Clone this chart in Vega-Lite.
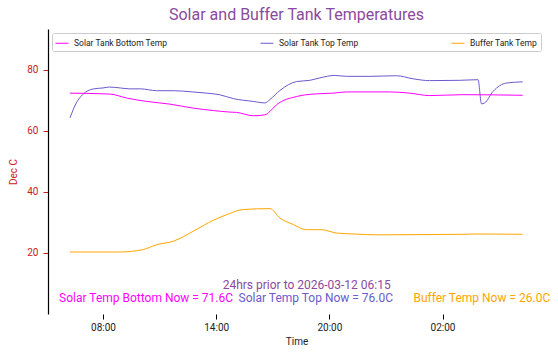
{
  "$schema": "https://vega.github.io/schema/vega-lite/v6.json",
  "width": 497,
  "height": 285,
  "autosize": {"type": "none"},
  "padding": {"left": 48, "top": 29, "right": 13, "bottom": 44},
  "config": {
    "font": "Roboto",
    "view": {"stroke": null},
    "axis": {"grid": false}
  },
  "title": {
    "text": "Solar and Buffer Tank Temperatures",
    "color": "#8a4a9e",
    "fontSize": 16,
    "fontWeight": "normal",
    "anchor": "middle",
    "offset": 6
  },
  "datasets": {
    "temps": [
      {"time": "2026-03-11 06:15", "series": "Solar Tank Top Temp", "temp": 64.2},
      {"time": "2026-03-11 06:35", "series": "Solar Tank Top Temp", "temp": 69.1},
      {"time": "2026-03-11 06:55", "series": "Solar Tank Top Temp", "temp": 71.8},
      {"time": "2026-03-11 07:30", "series": "Solar Tank Top Temp", "temp": 73.7},
      {"time": "2026-03-11 08:00", "series": "Solar Tank Top Temp", "temp": 74.0},
      {"time": "2026-03-11 08:20", "series": "Solar Tank Top Temp", "temp": 74.3},
      {"time": "2026-03-11 08:55", "series": "Solar Tank Top Temp", "temp": 74.0},
      {"time": "2026-03-11 09:25", "series": "Solar Tank Top Temp", "temp": 73.7},
      {"time": "2026-03-11 10:00", "series": "Solar Tank Top Temp", "temp": 73.7},
      {"time": "2026-03-11 10:50", "series": "Solar Tank Top Temp", "temp": 73.1},
      {"time": "2026-03-11 11:45", "series": "Solar Tank Top Temp", "temp": 73.1},
      {"time": "2026-03-11 12:45", "series": "Solar Tank Top Temp", "temp": 72.7},
      {"time": "2026-03-11 13:30", "series": "Solar Tank Top Temp", "temp": 72.3},
      {"time": "2026-03-11 14:10", "series": "Solar Tank Top Temp", "temp": 71.8},
      {"time": "2026-03-11 14:55", "series": "Solar Tank Top Temp", "temp": 70.5},
      {"time": "2026-03-11 15:58", "series": "Solar Tank Top Temp", "temp": 69.6},
      {"time": "2026-03-11 16:35", "series": "Solar Tank Top Temp", "temp": 69.1},
      {"time": "2026-03-11 16:51", "series": "Solar Tank Top Temp", "temp": 70.2},
      {"time": "2026-03-11 17:23", "series": "Solar Tank Top Temp", "temp": 73.2},
      {"time": "2026-03-11 18:16", "series": "Solar Tank Top Temp", "temp": 76.1},
      {"time": "2026-03-11 18:58", "series": "Solar Tank Top Temp", "temp": 76.5},
      {"time": "2026-03-11 19:30", "series": "Solar Tank Top Temp", "temp": 77.3},
      {"time": "2026-03-11 20:17", "series": "Solar Tank Top Temp", "temp": 78.1},
      {"time": "2026-03-11 20:55", "series": "Solar Tank Top Temp", "temp": 77.8},
      {"time": "2026-03-11 22:09", "series": "Solar Tank Top Temp", "temp": 77.8},
      {"time": "2026-03-11 23:34", "series": "Solar Tank Top Temp", "temp": 78.0},
      {"time": "2026-03-12 00:26", "series": "Solar Tank Top Temp", "temp": 77.0},
      {"time": "2026-03-12 01:19", "series": "Solar Tank Top Temp", "temp": 76.4},
      {"time": "2026-03-12 02:55", "series": "Solar Tank Top Temp", "temp": 76.5},
      {"time": "2026-03-12 03:53", "series": "Solar Tank Top Temp", "temp": 76.7},
      {"time": "2026-03-12 04:04", "series": "Solar Tank Top Temp", "temp": 68.8},
      {"time": "2026-03-12 04:14", "series": "Solar Tank Top Temp", "temp": 69.1},
      {"time": "2026-03-12 04:41", "series": "Solar Tank Top Temp", "temp": 72.9},
      {"time": "2026-03-12 05:23", "series": "Solar Tank Top Temp", "temp": 75.6},
      {"time": "2026-03-12 06:15", "series": "Solar Tank Top Temp", "temp": 76.0},

      {"time": "2026-03-11 06:15", "series": "Solar Tank Bottom Temp", "temp": 72.3},
      {"time": "2026-03-11 08:22", "series": "Solar Tank Bottom Temp", "temp": 72.0},
      {"time": "2026-03-11 09:15", "series": "Solar Tank Bottom Temp", "temp": 70.7},
      {"time": "2026-03-11 10:19", "series": "Solar Tank Bottom Temp", "temp": 69.6},
      {"time": "2026-03-11 11:33", "series": "Solar Tank Bottom Temp", "temp": 68.7},
      {"time": "2026-03-11 12:47", "series": "Solar Tank Bottom Temp", "temp": 67.4},
      {"time": "2026-03-11 13:51", "series": "Solar Tank Bottom Temp", "temp": 66.6},
      {"time": "2026-03-11 14:44", "series": "Solar Tank Bottom Temp", "temp": 66.1},
      {"time": "2026-03-11 15:05", "series": "Solar Tank Bottom Temp", "temp": 66.0},
      {"time": "2026-03-11 15:58", "series": "Solar Tank Bottom Temp", "temp": 64.9},
      {"time": "2026-03-11 16:35", "series": "Solar Tank Bottom Temp", "temp": 65.2},
      {"time": "2026-03-11 16:51", "series": "Solar Tank Bottom Temp", "temp": 66.3},
      {"time": "2026-03-11 17:12", "series": "Solar Tank Bottom Temp", "temp": 68.5},
      {"time": "2026-03-11 18:16", "series": "Solar Tank Bottom Temp", "temp": 71.2},
      {"time": "2026-03-11 19:08", "series": "Solar Tank Bottom Temp", "temp": 72.0},
      {"time": "2026-03-11 20:12", "series": "Solar Tank Bottom Temp", "temp": 72.3},
      {"time": "2026-03-11 20:55", "series": "Solar Tank Bottom Temp", "temp": 72.7},
      {"time": "2026-03-11 23:12", "series": "Solar Tank Bottom Temp", "temp": 72.7},
      {"time": "2026-03-12 00:16", "series": "Solar Tank Bottom Temp", "temp": 72.3},
      {"time": "2026-03-12 01:19", "series": "Solar Tank Bottom Temp", "temp": 71.5},
      {"time": "2026-03-12 03:05", "series": "Solar Tank Bottom Temp", "temp": 71.8},
      {"time": "2026-03-12 06:15", "series": "Solar Tank Bottom Temp", "temp": 71.6},

      {"time": "2026-03-11 06:15", "series": "Buffer Tank Temp", "temp": 20.3},
      {"time": "2026-03-11 08:54", "series": "Buffer Tank Temp", "temp": 20.3},
      {"time": "2026-03-11 10:08", "series": "Buffer Tank Temp", "temp": 21.1},
      {"time": "2026-03-11 10:51", "series": "Buffer Tank Temp", "temp": 22.7},
      {"time": "2026-03-11 11:43", "series": "Buffer Tank Temp", "temp": 23.8},
      {"time": "2026-03-11 12:47", "series": "Buffer Tank Temp", "temp": 27.1},
      {"time": "2026-03-11 13:51", "series": "Buffer Tank Temp", "temp": 30.7},
      {"time": "2026-03-11 14:33", "series": "Buffer Tank Temp", "temp": 32.5},
      {"time": "2026-03-11 15:26", "series": "Buffer Tank Temp", "temp": 34.2},
      {"time": "2026-03-11 16:51", "series": "Buffer Tank Temp", "temp": 34.5},
      {"time": "2026-03-11 17:23", "series": "Buffer Tank Temp", "temp": 31.4},
      {"time": "2026-03-11 18:05", "series": "Buffer Tank Temp", "temp": 29.3},
      {"time": "2026-03-11 18:47", "series": "Buffer Tank Temp", "temp": 27.6},
      {"time": "2026-03-11 19:35", "series": "Buffer Tank Temp", "temp": 27.6},
      {"time": "2026-03-11 20:23", "series": "Buffer Tank Temp", "temp": 26.5},
      {"time": "2026-03-11 21:15", "series": "Buffer Tank Temp", "temp": 26.2},
      {"time": "2026-03-11 22:40", "series": "Buffer Tank Temp", "temp": 25.9},
      {"time": "2026-03-12 00:48", "series": "Buffer Tank Temp", "temp": 26.0},
      {"time": "2026-03-12 03:16", "series": "Buffer Tank Temp", "temp": 26.1},
      {"time": "2026-03-12 03:37", "series": "Buffer Tank Temp", "temp": 26.2},
      {"time": "2026-03-12 06:15", "series": "Buffer Tank Temp", "temp": 26.1}
    ],
    "notes": [
      {"time": "2026-03-11 18:48", "value": 9.6, "kind": "period", "label": "24hrs prior to 2026-03-12 06:15"},
      {"time": "2026-03-11 10:17", "value": 5.4, "kind": "bottom", "label": "Solar Temp Bottom Now = 71.6C"},
      {"time": "2026-03-11 19:17", "value": 5.4, "kind": "top", "label": "Solar Temp Top Now = 76.0C"},
      {"time": "2026-03-12 04:05", "value": 5.4, "kind": "buffer", "label": "Buffer Temp Now = 26.0C"}
    ]
  },
  "layer": [
    {
      "data": {"name": "temps"},
      "mark": {"type": "line", "strokeWidth": 1, "interpolate": "monotone"},
      "encoding": {
        "x": {
          "field": "time",
          "type": "temporal",
          "title": "Time",
          "scale": {
            "domain": [
              {"year": 2026, "month": 3, "date": 11, "hours": 5, "minutes": 5},
              {"year": 2026, "month": 3, "date": 12, "hours": 7, "minutes": 26}
            ]
          },
          "axis": {
            "values": [
              {"year": 2026, "month": 3, "date": 11, "hours": 8},
              {"year": 2026, "month": 3, "date": 11, "hours": 14},
              {"year": 2026, "month": 3, "date": 11, "hours": 20},
              {"year": 2026, "month": 3, "date": 12, "hours": 2}
            ],
            "format": "%H:%M",
            "domain": false,
            "tickColor": "#000000",
            "tickSize": 5,
            "labelFontSize": 10,
            "labelColor": "#222222",
            "labelPadding": 3,
            "titleFontSize": 10,
            "titleFontWeight": "normal",
            "titleColor": "#222222",
            "titlePadding": 4
          }
        },
        "y": {
          "field": "temp",
          "type": "quantitative",
          "title": "Dec C",
          "scale": {"domain": [0, 93.3], "nice": false, "zero": false},
          "axis": {
            "values": [20, 40, 60, 80],
            "domainColor": "#000000",
            "domainWidth": 1.2,
            "tickColor": "#cc2020",
            "tickSize": 5,
            "labelColor": "#cc2020",
            "labelFontSize": 10,
            "labelPadding": 5,
            "titleColor": "#cc2020",
            "titleFontSize": 10,
            "titleFontWeight": "normal",
            "titlePadding": 8
          }
        },
        "color": {
          "field": "series",
          "type": "nominal",
          "scale": {
            "domain": ["Solar Tank Bottom Temp", "Solar Tank Top Temp", "Buffer Tank Temp"],
            "range": ["#ff00ff", "#6a5acd", "#ffa500"]
          },
          "legend": {
            "title": null,
            "orient": "none",
            "legendX": 4,
            "legendY": 4,
            "direction": "horizontal",
            "columns": 3,
            "columnPadding": 90,
            "symbolType": "stroke",
            "symbolSize": 169,
            "symbolStrokeWidth": 1,
            "labelFontSize": 8.5,
            "labelColor": "#222222",
            "labelOffset": 5,
            "padding": 3,
            "strokeColor": "#cccccc",
            "fillColor": "#ffffff",
            "cornerRadius": 2
          }
        }
      }
    },
    {
      "data": {"name": "notes"},
      "transform": [{"filter": "datum.kind === 'period'"}],
      "mark": {"type": "text", "color": "#8a4a9e", "fontSize": 12, "align": "center", "baseline": "middle"},
      "encoding": {
        "x": {"field": "time", "type": "temporal"},
        "y": {"field": "value", "type": "quantitative"},
        "text": {"field": "label"}
      }
    },
    {
      "data": {"name": "notes"},
      "transform": [{"filter": "datum.kind === 'bottom'"}],
      "mark": {"type": "text", "color": "#ff00ff", "fontSize": 12, "align": "center", "baseline": "middle"},
      "encoding": {
        "x": {"field": "time", "type": "temporal"},
        "y": {"field": "value", "type": "quantitative"},
        "text": {"field": "label"}
      }
    },
    {
      "data": {"name": "notes"},
      "transform": [{"filter": "datum.kind === 'top'"}],
      "mark": {"type": "text", "color": "#6a5acd", "fontSize": 12, "align": "center", "baseline": "middle"},
      "encoding": {
        "x": {"field": "time", "type": "temporal"},
        "y": {"field": "value", "type": "quantitative"},
        "text": {"field": "label"}
      }
    },
    {
      "data": {"name": "notes"},
      "transform": [{"filter": "datum.kind === 'buffer'"}],
      "mark": {"type": "text", "color": "#ffa500", "fontSize": 12, "align": "center", "baseline": "middle"},
      "encoding": {
        "x": {"field": "time", "type": "temporal"},
        "y": {"field": "value", "type": "quantitative"},
        "text": {"field": "label"}
      }
    }
  ]
}
